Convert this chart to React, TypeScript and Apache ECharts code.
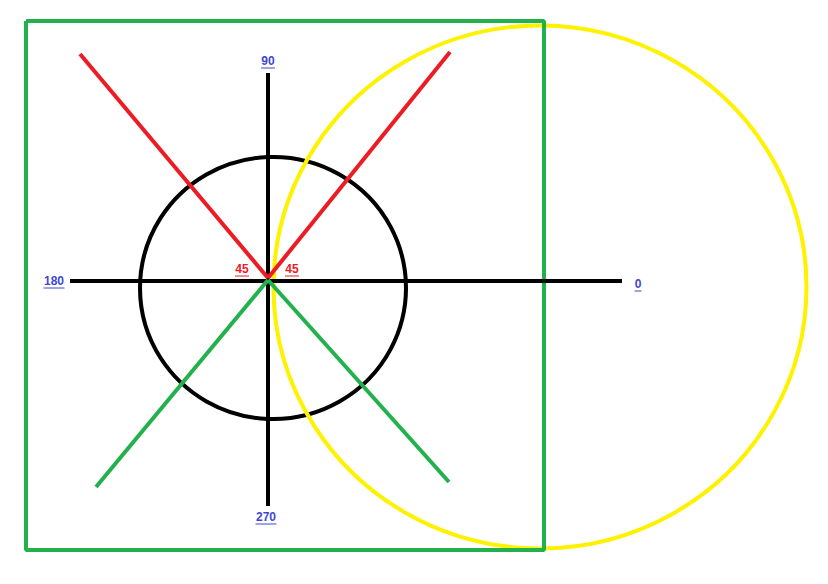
import { useEffect, useRef } from "react";
import * as echarts from "echarts";

// coordinates are in the picture's pixel space (x right, y down)
const axisH = [[70, 281], [622, 281]];
const axisV = [[268, 73], [268, 506]];
const redLines = [[[268, 278], [80, 54]], [[268, 278], [450, 52]]];
const greenLines = [[[268, 280], [96, 487]], [[268, 280], [449, 482]]];
const frame = [[26, 21], [544, 21], [544, 550], [26, 550], [26, 21]];
const blackCircle = { c: [273, 288], size: [266, 262] };
const yellowCircle = { c: [540, 287], size: [533, 523] };
const blueLabels = [
  { t: "90", p: [268, 61] },
  { t: "180", p: [54, 281] },
  { t: "0", p: [638, 284] },
  { t: "270", p: [266, 517] },
];
const redLabels = [
  { t: "45", p: [242, 269] },
  { t: "45", p: [292, 269] },
];

const BLUE = "#3f48cc";
const RED = "#ed1c24";
const GREEN = "#22b14c";
const YELLOW = "#fff200";

export default function App() {
  const ref = useRef<HTMLDivElement | null>(null);

  useEffect(() => {
    if (!ref.current) return;
    const chart = echarts.init(ref.current, null, { renderer: "svg" });
    const line = (data: number[][], color: string, width = 4) => ({
      type: "line",
      data,
      showSymbol: false,
      lineStyle: { color, width, opacity: 1 },
      silent: true,
    });
    const circle = (c: { c: number[]; size: number[] }, color: string) => ({
      type: "scatter",
      data: [c.c],
      symbol: "circle",
      symbolSize: c.size,
      itemStyle: { color: "transparent", borderColor: color, borderWidth: 4, opacity: 1 },
      silent: true,
    });
    const labels = (items: { t: string; p: number[] }[], color: string) => [
      {
        type: "scatter",
        data: items.map((d) => ({ value: d.p, name: d.t })),
        symbolSize: 0,
        itemStyle: { opacity: 1 },
        label: {
          show: true,
          position: "inside",
          formatter: "{b}",
          color,
          opacity: 1,
          fontFamily: "Liberation Sans",
          fontWeight: "bold",
          fontSize: 12,
        },
        silent: true,
      },
      ...items.map((d) => {
        const w = d.t.length * 7;
        return line(
          [[d.p[0] - w / 2, d.p[1] + 7], [d.p[0] + w / 2, d.p[1] + 7]],
          color,
          1
        );
      }),
    ];

    chart.setOption({
      animation: false,
      grid: { left: 0, top: 0, width: 828, height: 584 },
      xAxis: { type: "value", min: 0, max: 828, show: false },
      yAxis: { type: "value", min: 0, max: 584, inverse: true, show: false },
      series: [
        line(frame, GREEN),
        circle(blackCircle, "#000"),
        line(axisH, "#000"),
        line(axisV, "#000"),
        ...redLines.map((l) => line(l, RED)),
        ...greenLines.map((l) => line(l, GREEN)),
        circle(yellowCircle, YELLOW),
        ...labels(blueLabels, BLUE),
        ...labels(redLabels, RED),
      ],
    });
    return () => chart.dispose();
  }, []);

  return (
    <div
      ref={ref}
      style={{ position: "absolute", left: 0, top: 0, width: 828, height: 584, background: "#fff" }}
    />
  );
}
